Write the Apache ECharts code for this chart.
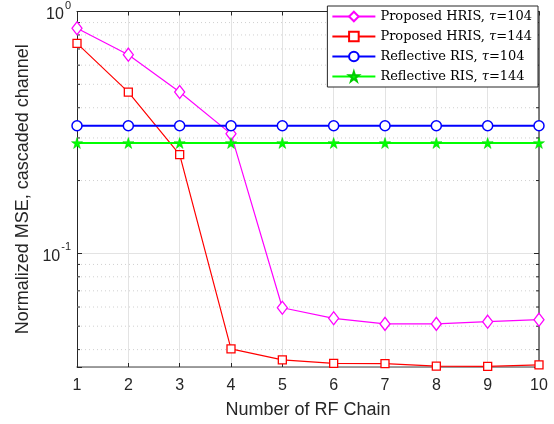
<!DOCTYPE html>
<html>
<head>
<meta charset="utf-8">
<script src="https://cdn.jsdelivr.net/npm/echarts@6/dist/echarts.min.js"></script>
<style>
  html, body { margin: 0; padding: 0; background: #fff; }
  #chart { width: 554px; height: 424px; }
</style>
</head>
<body>
<div id="chart"></div>
<script>
// Number of RF chains on the x axis
const rfChains = [1, 2, 3, 4, 5, 6, 7, 8, 9, 10];

// Normalized MSE of the cascaded channel estimate
const hris104 = [0.852, 0.663, 0.465, 0.312, 0.0596, 0.0539, 0.0511, 0.0511, 0.0522, 0.0532];
const hris144 = [0.738, 0.464, 0.256, 0.0403, 0.0363, 0.0351, 0.0350, 0.0342, 0.0341, 0.0346];
const ris104 = [0.337, 0.337, 0.337, 0.337, 0.337, 0.337, 0.337, 0.337, 0.337, 0.337];
const ris144 = [0.286, 0.286, 0.286, 0.286, 0.286, 0.286, 0.286, 0.286, 0.286, 0.286];

// Series names: [label, tau]
const seriesNames = [
  ['Proposed HRIS, ', '104'],
  ['Proposed HRIS, ', '144'],
  ['Reflective RIS, ', '104'],
  ['Reflective RIS, ', '144']
];

// Minor log-decade positions (dotted grid + small ticks)
const minorTicks = [0.04, 0.05, 0.06, 0.07, 0.08, 0.09, 0.2, 0.3, 0.4, 0.5, 0.6, 0.7, 0.8, 0.9];

const yMin = 0.0339, yMax = 1;

const pair = arr => arr.map((v, i) => [rfChains[i], v]);
const nameOf = i => seriesNames[i][0] + 'τ=' + seriesNames[i][1];

const chart = echarts.init(document.getElementById('chart'), null, { renderer: 'canvas' });

function isDecade(v) {
  const l = Math.log10(v);
  return Math.abs(l - Math.round(l)) < 1e-6;
}

const option = {
  backgroundColor: '#ffffff',
  animation: false,
  grid: { left: 77, right: 15, top: 7, bottom: 57, containLabel: false },
  legend: {
    orient: 'vertical',
    right: 16,
    top: 6,
    padding: [4, 6, 4, 4],
    itemGap: 7,
    itemWidth: 43,
    itemHeight: 12,
    backgroundColor: '#ffffff',
    borderColor: '#262626',
    borderWidth: 1,
    borderRadius: 0,
    data: [0, 1, 2, 3].map(nameOf),
    formatter: function (name) {
      const i = [0, 1, 2, 3].find(k => nameOf(k) === name);
      return '{n|' + seriesNames[i][0] + '}{t|τ}{n|=' + seriesNames[i][1] + '}';
    },
    textStyle: {
      rich: {
        n: { fontFamily: 'DejaVu Serif', fontSize: 13, lineHeight: 14, color: '#000' },
        t: { fontFamily: 'DejaVu Serif', fontStyle: 'italic', fontSize: 13, lineHeight: 14, color: '#000' }
      }
    }
  },
  xAxis: [{
    type: 'value',
    min: 1, max: 10, interval: 1,
    name: 'Number of RF Chain',
    nameLocation: 'middle',
    nameGap: 34,
    nameTextStyle: { fontFamily: 'Liberation Sans', fontSize: 18, color: '#262626' },
    axisLine: { show: true, lineStyle: { color: '#808080', width: 1.5 } },
    axisTick: { show: true, inside: true, length: 4, lineStyle: { color: '#262626' } },
    axisLabel: { fontFamily: 'Liberation Sans', fontSize: 16, color: '#262626', margin: 11 },
    splitLine: { show: true, lineStyle: { color: '#e3e3e3', width: 1 } }
  }, {
    type: 'value', position: 'top',
    min: 1, max: 10, interval: 1,
    axisLine: { show: true, onZero: false, lineStyle: { color: '#262626', width: 1 } },
    axisTick: { show: true, inside: true, length: 4, lineStyle: { color: '#262626' } },
    axisLabel: { show: false },
    splitLine: { show: false }
  }],
  yAxis: [{
    type: 'log',
    logBase: 10,
    min: yMin, max: yMax,
    name: 'Normalized MSE, cascaded channel',
    nameLocation: 'middle',
    nameGap: 45,
    nameMoveOverlap: false,
    nameTextStyle: { fontFamily: 'Liberation Sans', fontSize: 18, color: '#262626' },
    axisLine: { show: true, lineStyle: { color: '#262626', width: 1 } },
    axisTick: { show: true, inside: true, length: 5, lineStyle: { color: '#262626' } },
    axisLabel: {
      margin: 6,
      formatter: function (v) {
        if (!isDecade(v)) return '';
        return '{b|10}{s|' + Math.round(Math.log10(v)) + '}';
      },
      rich: {
        b: { fontFamily: 'Liberation Sans', fontSize: 16, color: '#262626', padding: [6, 0, 0, 0] },
        s: { fontFamily: 'Liberation Sans', fontSize: 11, color: '#262626', verticalAlign: 'bottom', padding: [0, 0, 12, 1] }
      }
    },
    splitLine: { show: true, lineStyle: { color: '#e3e3e3', width: 1 } }
  }, {
    type: 'log',
    logBase: 10,
    position: 'right',
    min: yMin, max: yMax,
    axisLine: { show: true, lineStyle: { color: '#555555', width: 1.5 } },
    axisTick: { show: true, inside: true, length: 5, lineStyle: { color: '#262626' } },
    axisLabel: { show: false },
    splitLine: { show: false }
  }],
  series: [
    {
      // dotted minor grid lines and short ticks on both vertical edges
      type: 'custom',
      silent: true,
      z: 1,
      xAxisIndex: 0, yAxisIndex: 0,
      data: minorTicks.map(v => [1, v]),
      renderItem: function (params, api) {
        const v = api.value(1);
        const a = api.coord([1, v]);
        const b = api.coord([10, v]);
        return {
          type: 'group',
          children: [
            { type: 'line', shape: { x1: a[0], y1: a[1], x2: b[0], y2: b[1] },
              style: { stroke: '#d0d0d0', lineWidth: 1, lineDash: [1, 3] } },
            { type: 'line', shape: { x1: a[0], y1: a[1], x2: a[0] + 3, y2: a[1] },
              style: { stroke: '#262626', lineWidth: 1 } },
            { type: 'line', shape: { x1: b[0] - 3, y1: b[1], x2: b[0], y2: b[1] },
              style: { stroke: '#262626', lineWidth: 1 } }
          ]
        };
      }
    },
    {
      name: nameOf(0), type: 'line', data: pair(hris104),
      symbol: 'diamond', symbolSize: [10, 13],
      lineStyle: { color: '#ff00ff', width: 1.2 },
      itemStyle: { color: '#ffffff', borderColor: '#ff00ff', borderWidth: 1.3 },
      z: 5
    },
    {
      name: nameOf(1), type: 'line', data: pair(hris144),
      symbol: 'rect', symbolSize: 8,
      lineStyle: { color: '#ff0000', width: 1.2 },
      itemStyle: { color: '#ffffff', borderColor: '#ff0000', borderWidth: 1.3 },
      z: 5
    },
    {
      name: nameOf(2), type: 'line', data: pair(ris104),
      symbol: 'circle', symbolSize: 10,
      lineStyle: { color: '#0000ff', width: 1.8 },
      itemStyle: { color: '#ffffff', borderColor: '#0000ff', borderWidth: 1.5 },
      z: 5
    },
    {
      name: nameOf(3), type: 'line', data: pair(ris144),
      symbol: 'path://M50,0 L61.8,36.2 L100,36.2 L69.1,58.8 L80.9,95.1 L50,72.7 L19.1,95.1 L30.9,58.8 L0,36.2 L38.2,36.2 Z',
      symbolSize: 11,
      lineStyle: { color: '#00ff00', width: 1.8 },
      itemStyle: { color: '#00ff00', borderColor: '#00cc00', borderWidth: 0.5 },
      z: 5
    }
  ]
};

chart.setOption(option);
</script>
</body>
</html>
